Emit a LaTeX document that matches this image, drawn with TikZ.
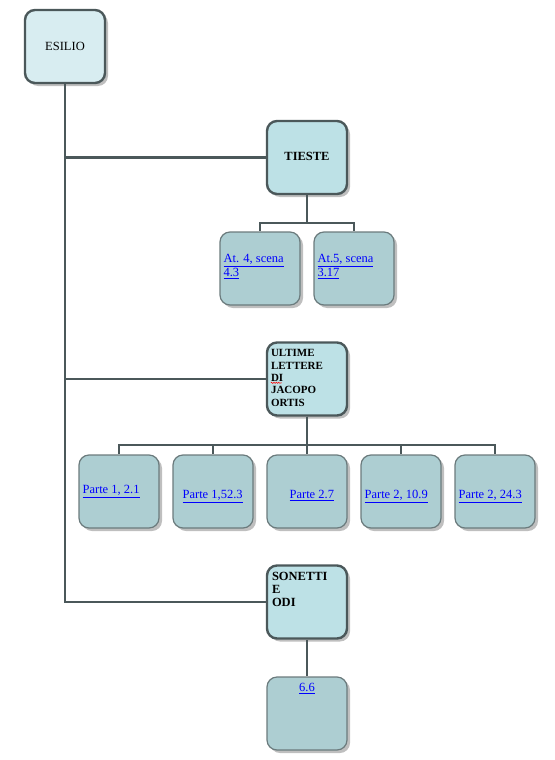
\documentclass[tikz,border=0pt]{standalone}
\usepackage{fontspec}
\setmainfont{Liberation Serif}
\usetikzlibrary{positioning, calc, shadows, decorations.pathmorphing}
\definecolor{rootfill}{HTML}{D8EDF1}
\definecolor{topicfill}{HTML}{BDE1E6}
\definecolor{leaffill}{HTML}{ADCED2}
\definecolor{edgegray}{HTML}{4B585A}
\definecolor{leafedge}{HTML}{6B7B7D}

\begin{document}
\begin{tikzpicture}[
  x=1pt, y=-1pt,
  box/.style={rectangle, rounded corners=10pt, minimum width=80pt, minimum height=73pt, inner sep=0pt,
    drop shadow={shadow xshift=3pt, shadow yshift=-3pt, fill=black, opacity=0.25}},
  topic/.style={box, draw=edgegray, line width=2.4pt, fill=topicfill},
  root/.style={topic, fill=rootfill, font=\fontsize{12.5}{14}\selectfont},
  leaf/.style={box, draw=leafedge, line width=1.2pt, fill=leaffill},
  link/.style={line width=2.4pt, draw=edgegray},
  title/.style={inner sep=0pt, anchor=north west, align=left, font=\bfseries\fontsize{11}{12.4}\selectfont},
  ref/.style={inner sep=0pt, anchor=north west, align=left, text=blue, font=\fontsize{12.5}{14}\selectfont},
  refline/.style={ref, anchor=base west}
]
\useasboundingbox (0,0) rectangle (554,760);

% Radice
\node[root] (esilio) at (65,46.5) {ESILIO};

% Tieste
\node[topic, font=\bfseries\fontsize{12.5}{14}\selectfont, text depth=3pt] (tieste) at (307,157.5) {TIESTE};
\node[leaf] (at4) at (260,268.5) {};
\node[leaf] (at5) at (354,268.5) {};
\node[ref] (at4-txt) at ($(at4.north west)+(4,23)$) {\underline{At. 4, scena}\\\underline{4.3}};
\node[ref] (at5-txt) at ($(at5.north west)+(4,23)$) {\underline{At.5, scena}\\\underline{3.17}};

% Ultime lettere
\node[topic] (ultime) at (307,379) {};
\node[title] (ultime-txt) at ($(ultime.north west)+(5,8)$) {ULTIME\\LETTERE\\DI\\JACOPO\\ORTIS};
\draw[red, line width=0.5pt, decorate, decoration={snake, amplitude=0.6pt, segment length=2.4pt}]
  ($(ultime-txt.north west)+(0,33.5)$) -- ++(11,0);
\node[leaf] (p1) at (119,491.5) {};
\node[leaf] (p2) at (213,491.5) {};
\node[leaf] (p3) at (307,491.5) {};
\node[leaf] (p4) at (401,491.5) {};
\node[leaf] (p5) at (495,491.5) {};
\node[refline] (p1-txt) at ($(p1.north west)+(4,39)$) {\underline{Parte 1, 2.1}};
\node[refline] (p2-txt) at ($(p2.north west)+(10,44)$) {\underline{Parte 1,52.3}};
\node[refline] (p3-txt) at ($(p3.north west)+(23,44)$) {\underline{Parte 2.7}};
\node[refline] (p4-txt) at ($(p4.north west)+(4,44)$) {\underline{Parte 2, 10.9}};
\node[refline] (p5-txt) at ($(p5.north west)+(4,44)$) {\underline{Parte 2, 24.3}};

% Sonetti e odi
\node[topic] (sonetti) at (307,602) {};
\node[title, font=\bfseries\fontsize{12.5}{13}\selectfont] (sonetti-txt) at ($(sonetti.north west)+(6,8)$) {SONETTI\\E\\ODI};
\node[leaf] (s66) at (307,713.5) {};
\node[ref, anchor=base] (s66-txt) at ($(s66.north)+(0,15)$) {\underline{6.6}};

% Collegamenti
\draw[link] (esilio.south) |- (tieste.west);
\draw[link] (esilio.south) |- (ultime.west);
\draw[link] (esilio.south) |- (sonetti.west);
\draw[link] (tieste.south) -- ++(0,28) -| (at4.north);
\draw[link] (tieste.south) -- ++(0,28) -| (at5.north);
\foreach \p in {p1,p2,p3,p4,p5}
  \draw[link] (ultime.south) -- ++(0,28) -| (\p.north);
\draw[link] (sonetti.south) -- (s66.north);

\end{tikzpicture}
\end{document}
